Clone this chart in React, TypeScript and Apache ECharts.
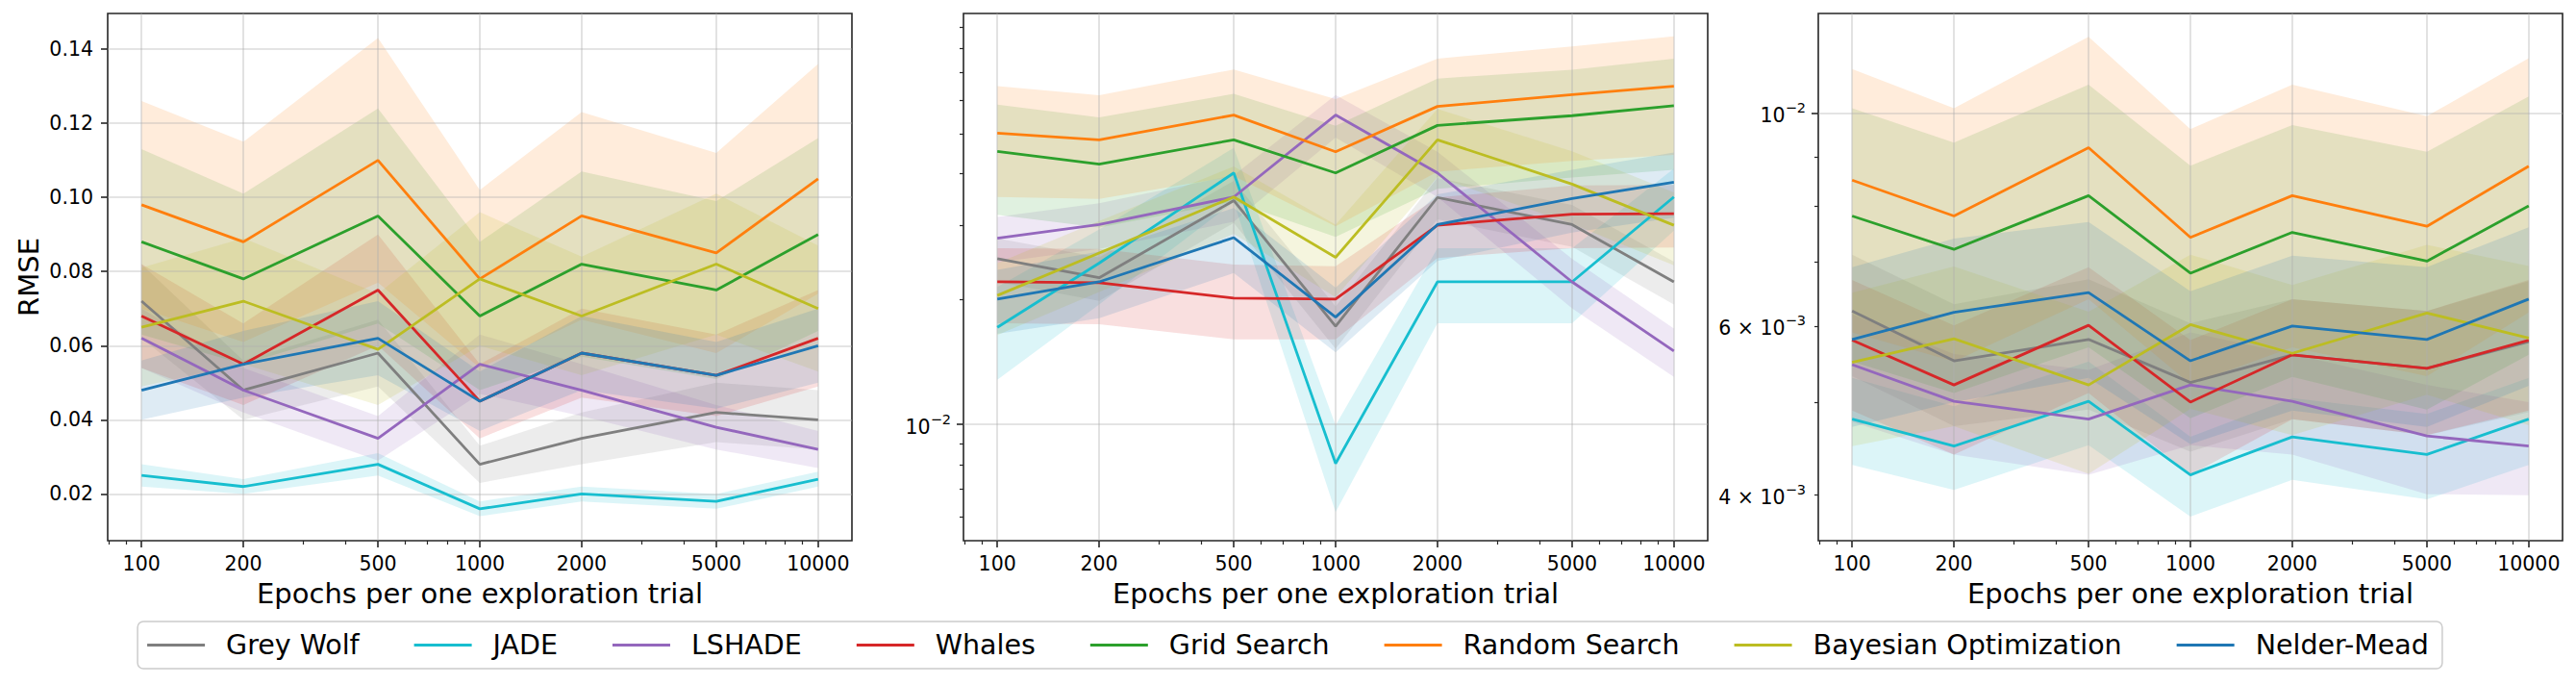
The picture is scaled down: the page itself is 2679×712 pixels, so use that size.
import React, { useEffect, useRef } from "react";
import * as echarts from "echarts";

// ---------------- data ----------------
const epochs = [100, 200, 500, 1000, 2000, 5000, 10000];
const minorEpochs = [80, 90, 300, 400, 600, 700, 800, 900, 3000, 4000, 6000, 7000, 8000, 9000];

const methods = [
  "Grey Wolf",
  "JADE",
  "LSHADE",
  "Whales",
  "Grid Search",
  "Random Search",
  "Bayesian Optimization",
  "Nelder-Mead",
];
const methodColors = ["#7f7f7f", "#17becf", "#9467bd", "#d62728", "#2ca02c", "#ff7f0e", "#bcbd22", "#1f77b4"];

// Panel 1 (linear RMSE)
const panel1Mean = [
  [0.072, 0.048, 0.058, 0.028, 0.035, 0.042, 0.040],
  [0.025, 0.022, 0.028, 0.016, 0.020, 0.018, 0.024],
  [0.062, 0.048, 0.035, 0.055, 0.048, 0.038, 0.032],
  [0.068, 0.055, 0.075, 0.045, 0.058, 0.052, 0.062],
  [0.088, 0.078, 0.095, 0.068, 0.082, 0.075, 0.090],
  [0.098, 0.088, 0.110, 0.078, 0.095, 0.085, 0.105],
  [0.065, 0.072, 0.059, 0.078, 0.068, 0.082, 0.070],
  [0.048, 0.055, 0.062, 0.045, 0.058, 0.052, 0.060],
];
const panel1Std = [
  [0.010, 0.008, 0.009, 0.005, 0.007, 0.008, 0.008],
  [0.003, 0.002, 0.003, 0.002, 0.002, 0.002, 0.002],
  [0.008, 0.006, 0.006, 0.008, 0.007, 0.006, 0.005],
  [0.014, 0.011, 0.015, 0.010, 0.012, 0.011, 0.013],
  [0.025, 0.023, 0.029, 0.020, 0.025, 0.024, 0.026],
  [0.028, 0.027, 0.033, 0.024, 0.028, 0.027, 0.031],
  [0.016, 0.017, 0.015, 0.018, 0.016, 0.019, 0.017],
  [0.008, 0.009, 0.010, 0.008, 0.010, 0.009, 0.010],
];

// Panel 2 (log RMSE)
const panel2Mean = [
  [0.0250, 0.0225, 0.0345, 0.0172, 0.0351, 0.0302, 0.0220],
  [0.0171, 0.0244, 0.0402, 0.00805, 0.0220, 0.0220, 0.0352],
  [0.0280, 0.0302, 0.0352, 0.0554, 0.0402, 0.0220, 0.0150],
  [0.0220, 0.0219, 0.0201, 0.0200, 0.0301, 0.0320, 0.0321],
  [0.0453, 0.0422, 0.0483, 0.0402, 0.0523, 0.0552, 0.0583],
  [0.0501, 0.0483, 0.0554, 0.0452, 0.0581, 0.0620, 0.0650],
  [0.0204, 0.0258, 0.0352, 0.0252, 0.0483, 0.0378, 0.0301],
  [0.0200, 0.0220, 0.0281, 0.0181, 0.0302, 0.0349, 0.0382],
];
const panel2Std = [
  [0.0030, 0.0027, 0.0040, 0.0020, 0.0040, 0.0035, 0.0026],
  [0.0043, 0.0050, 0.0060, 0.0019, 0.0045, 0.0045, 0.0060],
  [0.0035, 0.0038, 0.0045, 0.0065, 0.0050, 0.0030, 0.0020],
  [0.0045, 0.0045, 0.0041, 0.0040, 0.0050, 0.0055, 0.0055],
  [0.0134, 0.0125, 0.0140, 0.0120, 0.0155, 0.0160, 0.0174],
  [0.0149, 0.0135, 0.0159, 0.0153, 0.0176, 0.0190, 0.0206],
  [0.0040, 0.0050, 0.0065, 0.0050, 0.0090, 0.0075, 0.0060],
  [0.0035, 0.0040, 0.0050, 0.0032, 0.0055, 0.0060, 0.0068],
];

// Panel 3 (log RMSE)
const panel3Mean = [
  [0.00622, 0.00552, 0.00581, 0.00524, 0.00560, 0.00542, 0.00578],
  [0.00480, 0.00450, 0.00501, 0.00420, 0.00460, 0.00441, 0.00480],
  [0.00547, 0.00501, 0.00480, 0.00521, 0.00501, 0.00461, 0.00450],
  [0.00580, 0.00521, 0.00601, 0.00500, 0.00560, 0.00542, 0.00580],
  [0.00781, 0.00721, 0.00820, 0.00681, 0.00751, 0.00701, 0.00800],
  [0.00851, 0.00781, 0.00920, 0.00742, 0.00820, 0.00762, 0.00880],
  [0.00550, 0.00582, 0.00521, 0.00602, 0.00562, 0.00619, 0.00583],
  [0.00581, 0.00620, 0.00650, 0.00552, 0.00600, 0.00581, 0.00640],
];
const panel3Std = [
  [0.0009, 0.0008, 0.0009, 0.0008, 0.0008, 0.0008, 0.0009],
  [0.0005, 0.00045, 0.0005, 0.0004, 0.00045, 0.00045, 0.0005],
  [0.0007, 0.0006, 0.0006, 0.0007, 0.0006, 0.0006, 0.0005],
  [0.0009, 0.0008, 0.0009, 0.0008, 0.0008, 0.0008, 0.0009],
  [0.0023, 0.0021, 0.0025, 0.0020, 0.0022, 0.0021, 0.0024],
  [0.0026, 0.0023, 0.0028, 0.0022, 0.0025, 0.0023, 0.0026],
  [0.0010, 0.0011, 0.0010, 0.0011, 0.0010, 0.0011, 0.0011],
  [0.0011, 0.0012, 0.0012, 0.0010, 0.0011, 0.0011, 0.0012],
];

// tick values
const panel1YTicks = [0.02, 0.04, 0.06, 0.08, 0.1, 0.12, 0.14];
const panel2YMajor = [0.01];
const panel2YMinor = [0.006, 0.007, 0.008, 0.009, 0.02, 0.03, 0.04, 0.05, 0.06, 0.07, 0.08, 0.09];
const panel3YMajor = [0.01];
const panel3YLabels = [0.004, 0.006, 0.01];
const panel3YMinor = [0.004, 0.005, 0.006, 0.007, 0.008, 0.009];

const xLimits = [79.43, 12589];
const panelYLimits = [
  [0.0074, 0.1496],
  [0.00525, 0.0972],
  [0.003587, 0.01269],
];

const xTitle = "Epochs per one exploration trial";
const yTitle = "RMSE";

// ---------------- chart ----------------
const FONT = "DejaVu Sans";
const INK = "#000000";
const FRAME = "#262626";
const GRID_LINE = "rgba(176,176,176,0.45)";
const TICK_FS = 20.5;
const TITLE_FS = 29;

function sciLabel(v: number): string {
  const exp = Math.floor(Math.log10(v) + 1e-9);
  const mant = Math.round(v / Math.pow(10, exp));
  const sup = "\u2212" + String(-exp);
  return mant === 1 ? `{b|10}{s|${sup}}` : `{b|${mant} \u00d7 10}{s|${sup}}`;
}

const richSci = {
  b: { fontSize: TICK_FS, fontFamily: FONT, color: INK, lineHeight: 26, verticalAlign: "bottom" },
  s: { fontSize: 14.5, fontFamily: FONT, color: INK, lineHeight: 14, verticalAlign: "top" },
};

function buildOption() {
  const gridLefts = [112, 1002, 1891];
  const grids = gridLefts.map((l) => ({
    left: l,
    top: 14,
    width: 774,
    height: 548,
    show: true,
    borderColor: FRAME,
    borderWidth: 1.6,
    backgroundColor: "transparent",
    outerBoundsMode: "none",
  }));

  const xAxes: any[] = [];
  const yAxes: any[] = [];
  const series: any[] = [];

  const means = [panel1Mean, panel2Mean, panel3Mean];
  const stds = [panel1Std, panel2Std, panel3Std];

  for (let p = 0; p < 3; p++) {
    const xMain = xAxes.length;
    xAxes.push({
      type: "log",
      logBase: 10,
      gridIndex: p,
      position: "bottom",
      min: xLimits[0],
      max: xLimits[1],
      axisLine: { show: false, onZero: false },
      axisTick: { show: true, length: 7, customValues: epochs, lineStyle: { color: FRAME, width: 1.6 } },
      axisLabel: {
        show: true,
        customValues: epochs,
        formatter: (v: number) => String(Math.round(v)),
        margin: 13,
        fontSize: TICK_FS,
        fontFamily: FONT,
        color: INK,
      },
      splitLine: { show: true, lineStyle: { color: GRID_LINE, width: 1.6 } },
      minorTick: { show: false },
      name: xTitle,
      nameLocation: "middle",
      nameGap: 40,
      nameTextStyle: { fontSize: TITLE_FS, fontFamily: FONT, color: INK },
    });
    xAxes.push({
      type: "log",
      logBase: 10,
      gridIndex: p,
      position: "bottom",
      min: xLimits[0],
      max: xLimits[1],
      axisLine: { show: false, onZero: false },
      axisTick: { show: true, length: 4, customValues: minorEpochs, lineStyle: { color: FRAME, width: 1.2 } },
      axisLabel: { show: false },
      splitLine: { show: false },
    });

    const yMain = yAxes.length;
    if (p === 0) {
      yAxes.push({
        type: "value",
        gridIndex: p,
        position: "left",
        min: panelYLimits[p][0],
        max: panelYLimits[p][1],
        axisLine: { show: false, onZero: false },
        axisTick: { show: true, length: 7, customValues: panel1YTicks, lineStyle: { color: FRAME, width: 1.6 } },
        axisLabel: {
          show: true,
          customValues: panel1YTicks,
          formatter: (v: number) => v.toFixed(2),
          margin: 15,
          fontSize: TICK_FS,
          fontFamily: FONT,
          color: INK,
        },
        splitLine: { show: true, lineStyle: { color: GRID_LINE, width: 1.6 } },
        name: yTitle,
        nameLocation: "middle",
        nameGap: 68,
        nameRotate: 90,
        nameTextStyle: { fontSize: TITLE_FS, fontFamily: FONT, color: INK },
      });
    } else {
      const major = p === 1 ? panel2YMajor : panel3YMajor;
      const labels = p === 1 ? panel2YMajor : panel3YLabels;
      const minor = p === 1 ? panel2YMinor : panel3YMinor;
      yAxes.push({
        type: "log",
        logBase: 10,
        gridIndex: p,
        position: "left",
        min: panelYLimits[p][0],
        max: panelYLimits[p][1],
        axisLine: { show: false, onZero: false },
        axisTick: { show: true, length: 7, customValues: major, lineStyle: { color: FRAME, width: 1.6 } },
        axisLabel: {
          show: true,
          customValues: labels,
          formatter: (v: number) => sciLabel(v),
          rich: richSci,
          margin: 13,
          fontSize: TICK_FS,
          fontFamily: FONT,
          color: INK,
        },
        splitLine: { show: true, lineStyle: { color: GRID_LINE, width: 1.6 } },
      });
      yAxes.push({
        type: "log",
        logBase: 10,
        gridIndex: p,
        position: "left",
        min: panelYLimits[p][0],
        max: panelYLimits[p][1],
        axisLine: { show: false, onZero: false },
        axisTick: { show: true, length: 4, customValues: minor, lineStyle: { color: FRAME, width: 1.2 } },
        axisLabel: { show: false },
        splitLine: { show: false },
      });
    }

    for (let m = 0; m < methods.length; m++) {
      const mean = means[p][m];
      const sd = stds[p][m];
      const lo = mean.map((v, i) => v - sd[i]);
      const hi = mean.map((v, i) => v + sd[i]);
      const color = methodColors[m];
      series.push({
        type: "custom",
        name: methods[m] + " band",
        xAxisIndex: xMain,
        yAxisIndex: yMain,
        z: -1,
        silent: true,
        clip: true,
        data: epochs.map((e, i) => [e, lo[i], hi[i]]),
        encode: { x: 0, y: [1, 2] },
        renderItem: (params: any, api: any) => {
          if (params.dataIndex !== 0) return null;
          const pts: number[][] = [];
          for (let i = 0; i < epochs.length; i++) pts.push(api.coord([epochs[i], hi[i]]));
          for (let i = epochs.length - 1; i >= 0; i--) pts.push(api.coord([epochs[i], lo[i]]));
          return {
            type: "polygon",
            shape: { points: pts },
            style: { fill: color, opacity: 0.15, stroke: "none" },
          };
        },
      });
    }
    for (let m = 0; m < methods.length; m++) {
      series.push({
        type: "line",
        name: methods[m],
        xAxisIndex: xMain,
        yAxisIndex: yMain,
        z: 3,
        silent: true,
        showSymbol: false,
        symbol: "none",
        data: epochs.map((e, i) => [e, means[p][m][i]]),
        color: methodColors[m],
        lineStyle: { width: 2.8, color: methodColors[m] },
        itemStyle: { color: methodColors[m] },
      });
    }
  }

  return {
    animation: false,
    backgroundColor: "#ffffff",
    textStyle: { fontFamily: FONT },
    grid: grids,
    xAxis: xAxes,
    yAxis: yAxes,
    legend: {
      data: methods,
      left: "center",
      top: 646,
      icon: "rect",
      itemWidth: 60,
      itemHeight: 3,
      itemGap: 57,
      selectedMode: false,
      padding: [10, 14, 10, 10],
      borderColor: "#cccccc",
      borderWidth: 1.5,
      borderRadius: 6,
      backgroundColor: "#ffffff",
      textStyle: { fontSize: 28.5, fontFamily: FONT, color: INK, padding: [0, 0, 0, 17] },
    },
    series,
  };
}

export default function App() {
  const ref = useRef<HTMLDivElement | null>(null);
  useEffect(() => {
    document.body.style.margin = "0";
    if (!ref.current) return;
    const chart = echarts.init(ref.current, undefined, { renderer: "svg" });
    chart.setOption(buildOption() as any);
    return () => {
      chart.dispose();
    };
  }, []);
  return <div ref={ref} style={{ width: 2679, height: 712 }} />;
}
